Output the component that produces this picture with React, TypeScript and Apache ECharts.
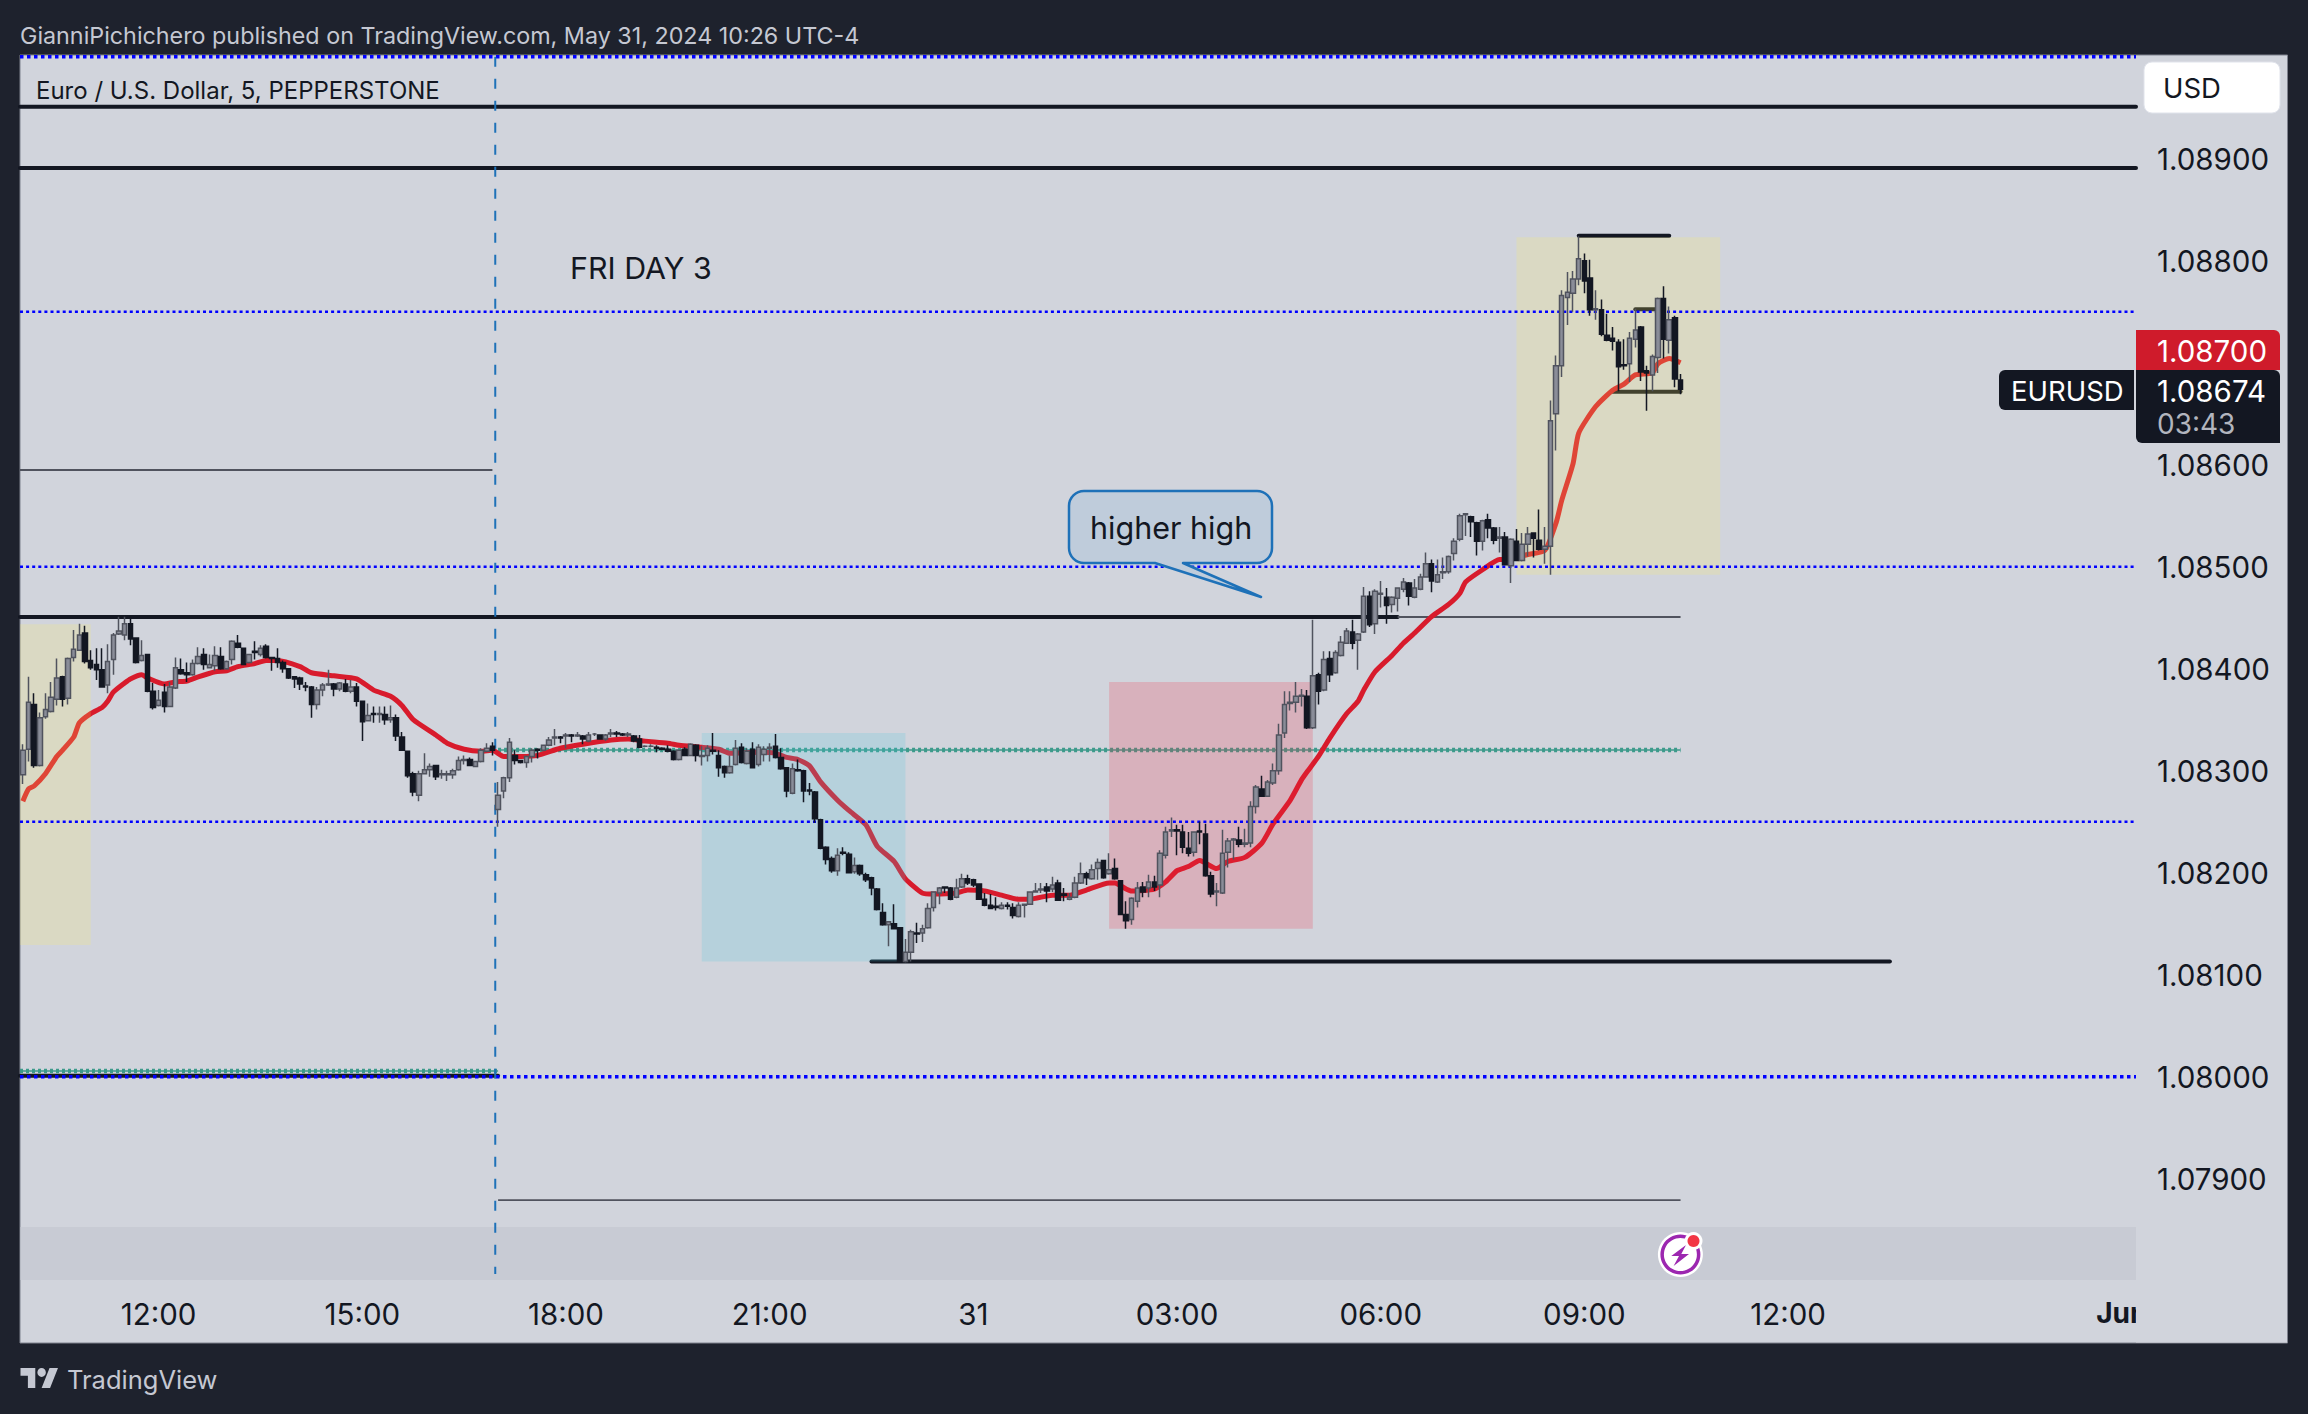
import React, { useEffect, useRef } from "react";
import * as echarts from "echarts";

// Prices are in points (0.00001) above this base.
const priceBase = 1.08;
const opens = [
  296,321,365,305,353,358,370,392,371,411, 418,435,408,404,399,384,409,434,433,444,
  430,408,414,378,364,377,363,381,399,396, 394,405,414,401,403,412,400,409,425,420,
  406,417,414,422,411,410,406,400,392,391, 383,382,365,379,384,385,380,385,378,382,
  368,349,356,355,355,350,352,333,319,297, 276,297,301,305,296,296,296,301,310,311,
  304,309,319,324,262,280,293,315,310,308, 314,321,320,325,332,333,334,335,334,334,
  329,336,335,331,336,337,336,335,334,331, 324,324,323,322,321,319,311,321,315,325,
  314,315,320,315,304,298,306,323,307,321, 306,316,322,324,313,303,278,301,300,281,
  279,252,225,214,202,220,218,201,207,198, 195,184,161,149,150,146,113,122,141,141,
  146,166,180,186,185,176,186,194,193,189, 174,168,167,165,168,166,157,168,169,181,
  183,186,184,190,179,174,176,190,199,194, 204,212,199,204,192,159,154,172,186,185,
  191,188,217,241,242,240,224,220,241,238, 197,181,180,220,232,232,228,229,265,282,
  275,288,300,337,366,367,373,373,342,394, 379,410,396,413,425,436,428,436,471,444,
  473,470,463,469,478,484,470,478,490,503, 485,494,495,513,527,551,549,543,525,546,
  538,528,529,501,525,506,522,533,526,517, 520,650,697,764,768,782,800,783,752,752,
  727,724,720,698,699,723,735,692,688,705, 763,722,744,683,
];
const highs = [
  326,392,376,357,376,387,410,393,411,438, 444,442,418,420,420,424,435,451,451,451,
  430,428,414,386,379,385,387,411,410,406, 409,421,420,414,422,421,408,428,433,420,
  414,427,423,424,411,420,408,400,392,392, 387,383,382,386,399,386,387,390,389,386,
  368,366,363,363,363,364,355,338,319,299, 300,317,307,305,301,300,302,314,315,313,
  309,322,327,328,289,294,332,320,310,315, 322,322,325,333,341,334,337,336,338,335,
  338,337,335,336,341,339,337,338,335,335, 325,326,325,323,325,320,320,323,327,326,
  324,325,337,320,305,315,330,327,322,328, 326,324,327,336,322,303,307,311,301,288,
  280,253,226,216,224,225,220,215,208,200, 196,185,170,152,169,146,135,144,151,149,
  170,181,186,186,186,194,199,198,194,189, 180,179,176,171,171,170,171,169,181,190,
  190,190,196,193,185,180,196,210,201,208, 214,212,219,214,192,172,176,191,191,198,
  197,222,245,254,247,247,240,240,250,248, 201,190,242,234,234,245,243,270,286,295,
  291,307,346,378,378,387,380,379,448,396, 417,417,418,432,440,448,435,480,476,478,
  486,479,471,479,489,485,488,493,514,507, 507,509,511,528,552,552,550,544,546,552,
  539,539,534,528,537,533,539,533,556,539, 663,707,771,789,790,824,807,801,771,762,
  748,735,723,723,730,753,736,697,708,764, 775,755,746,689,
];
const lows = [
  287,309,303,304,351,357,364,363,365,407, 418,405,399,389,382,376,394,433,428,423,
  405,407,377,360,363,357,363,380,394,387, 393,404,399,401,398,399,399,404,420,404,
  405,409,412,410,398,401,396,390,381,379, 378,352,360,373,383,373,378,377,376,363,
  329,349,347,347,345,347,329,320,293,275, 270,297,294,291,292,290,292,300,306,305,
  304,308,318,315,245,273,289,306,307,303, 308,312,319,324,325,327,322,328,333,326,
  328,334,331,329,333,333,334,333,328,322, 323,323,318,320,318,310,310,315,315,309,
  305,309,316,294,293,297,305,307,306,303, 304,309,309,312,301,274,277,299,269,276,
  249,223,208,200,197,217,200,199,197,191, 178,163,148,128,145,113,112,113,131,132,
  145,162,169,180,173,175,185,188,186,174, 167,165,163,164,164,155,156,156,169,181,
  180,171,181,173,172,173,175,189,188,193, 193,194,198,193,159,145,149,166,176,176,
  182,176,214,235,217,219,216,216,228,196, 176,167,179,205,213,225,225,225,258,275,
  275,286,296,332,359,357,363,341,341,365, 378,387,395,412,425,419,399,435,441,434,
  460,444,455,456,475,462,469,477,490,475, 484,488,493,506,525,530,529,511,516,528,
  522,514,502,484,506,505,510,509,516,503, 492,614,686,737,750,776,768,746,742,726,
  721,712,672,693,681,715,682,653,672,690, 704,709,676,669,
];
const closes = [
  320,367,305,352,360,372,391,370,410,419, 433,407,401,399,382,407,433,437,444,429,
  406,413,378,362,369,363,382,401,395,394, 405,412,404,404,413,400,407,427,421,404,
  414,416,420,411,410,406,400,391,390,385, 382,365,379,384,385,380,386,378,382,368,
  348,354,355,356,350,352,334,320,295,279, 297,301,304,294,297,297,300,310,311,305,
  309,320,322,320,276,293,328,310,308,314, 320,320,325,330,333,332,335,334,335,331,
  335,336,331,335,337,336,335,336,329,323, 324,324,322,321,319,311,320,315,326,315,
  315,322,319,303,298,304,322,308,319,303, 323,321,323,313,302,280,302,300,280,280,
  253,224,213,202,217,219,200,207,199,193, 185,164,149,152,145,113,122,142,140,145,
  165,181,185,185,174,185,194,190,188,174, 168,165,166,168,167,158,168,169,181,182,
  184,182,188,173,178,176,190,199,195,203, 210,195,203,194,159,153,175,185,181,191,
  186,219,240,242,241,225,219,240,240,197, 179,182,219,231,233,228,229,265,284,275,
  289,300,335,365,367,373,374,342,393,378, 409,394,416,426,437,425,434,471,443,476,
  474,462,470,479,485,471,479,490,503,486, 492,495,510,525,550,552,544,525,545,538,
  526,529,502,527,506,522,532,528,517,520, 643,697,766,769,782,802,780,752,753,728,
  722,721,696,697,724,732,691,690,706,763, 723,742,684,674,
];

// Moving average, read at the bars listed in emaBars.
const emaBars = [
  0,1,2,4,6,7,9,10,12,14,15,16,18,19,21,22,25,27,29,31,34,36,38,41,43,45,49,51,55,59,62,65,67,69,73,75,78,81,83,85,
  88,91,95,99,104,107,110,114,116,120,123,125,130,133,135,137,139,141,144,146,149,151,154,156,159,161,165,167,170,173,176,
  178,182,185,188,192,193,195,196,200,202,204,206,208,211,213,216,219,221,224,226,227,229,231,234,236,237,239,242,244,246,249,252,254,255,
  258,261,262,266,269,271,272,274,275,278,281,283,285,288,289,291,293,
];
const emaValues = [
  270,282,285,297,314,320,333,347,356,362,368,377,386,390,394,391,385,387,388,392,397,398,402,405,408,408,402,396,393,390,379,373,364,350,335,327,321,319,320,314,
  314,315,322,326,330,331,329,327,325,323,321,317,318,317,313,311,305,289,271,261,247,226,211,194,180,179,180,183,182,178,174,
  174,178,178,183,190,190,184,182,184,191,202,206,212,204,211,215,229,248,271,291,299,314,332,356,368,379,397,413,425,435,451,463,474,485,
  497,507,507,512,516,543,565,601,631,657,673,679,688,690,699,704,700,
];

const barCount = 374;
const lastBar = barCount - 1;
const firstBar = 0;
const tickBars = [24, 60, 96, 132, 168, 204, 240, 276, 312, 371];
const tickLabels = ["12:00", "15:00", "18:00", "21:00", "31", "03:00", "06:00", "09:00", "12:00", "Jun"];
const hiddenPriceTicks = [1.078, 1.087, 1.09];

// [first bar, last bar, low price, high price, tint]
const zones = [
  [0, 12, 1.08129, 1.084435, 0],
  [120, 156, 1.08113, 1.08337, 1],
  [192, 228, 1.08145, 1.08387, 2],
  [264, 300, 1.08492, 1.08823, 0],
];
const zoneTints = ["rgba(254,242,95,0.2)", "rgba(74,202,220,0.2)", "rgba(244,42,60,0.2)"];

// [first bar, last bar, price]
const blueThin = [[0, lastBar, 1.0875], [0, lastBar, 1.085], [0, lastBar, 1.0825]];
const blueThick = [[0, lastBar, 1.09], [0, lastBar, 1.08]];
const blackThick = [
  [0, lastBar, 1.08951], [0, lastBar, 1.08891], [0, 243, 1.084507], [150, 330, 1.08113],
  [275, 291, 1.088245], [281, 293, 1.086716], [285, 289, 1.087524], [0, 84, 1.08001],
];
const greyThin = [[243, 293, 1.084507], [0, 83, 1.085948], [84, 293, 1.07879]];
const greenLines = [[84, 293, 1.083203], [0, 84, 1.080056]];
const sessionLine = [[84, 1.09, 1.078066]];

const BG = "#1e222d";
const PANEL = "#d1d4dc";
const INK = "#131722";
const FONT = "Inter, 'Noto Sans', sans-serif";

echarts.graphic.registerShape(
  "tvLogo",
  echarts.graphic.extendPath(
    "M14 22H7V11H0V4h14v18zM28 22h-8l7.5-18h8L28 22zM16 8a4 4 0 1 0 8 0a4 4 0 1 0-8 0z",
    {}
  )
);
echarts.graphic.registerShape(
  "calloutBubble",
  echarts.graphic.extendPath(
    "M1084 491H1257A15 15 0 0 1 1272 506V548A15 15 0 0 1 1257 563H1183L1261 597L1155 563H1084A15 15 0 0 1 1069 548V506A15 15 0 0 1 1084 491z",
    {}
  )
);

function hlineSeries(rows: number[][], style: any, z: number) {
  return {
    type: "custom",
    silent: true,
    z,
    encode: { x: [0, 1], y: 2 },
    data: rows,
    renderItem: (params: any, api: any) => {
      const cs = params.coordSys;
      const s = api.value(0);
      const e = api.value(1);
      const a = api.coord([s, api.value(2)]);
      const b = api.coord([e, api.value(2)]);
      return {
        type: "line",
        shape: {
          x1: s === firstBar ? cs.x : a[0],
          y1: a[1],
          x2: e === lastBar ? cs.x + cs.width : b[0],
          y2: a[1],
        },
        style,
      };
    },
  };
}

export default function App() {
  const ref = useRef<HTMLDivElement>(null);
  useEffect(() => {
    document.body.style.margin = "0";
    document.body.style.background = BG;
    const chart = echarts.init(ref.current!, undefined, { renderer: "svg" });
    const categories = Array.from({ length: barCount }, (_, i) =>
      new Date(Date.UTC(2024, 4, 30, 10, 5 * i)).toISOString()
    );
    const toPrice = (p: number) => +(priceBase + p * 1e-5).toFixed(5);
    const candles = opens.map((o, i) => [toPrice(o), toPrice(closes[i]), toPrice(lows[i]), toPrice(highs[i])]);
    const ema = emaBars.map((b, i) => [b, toPrice(emaValues[i])]);

    const t = (text: string, x: number, y: number, fontSize: number, fill: string, extra: any = {}) => ({
      type: "text",
      z: 30,
      x,
      y,
      style: { text, fontSize, fill, fontFamily: FONT, textVerticalAlign: "middle", verticalAlign: "middle", ...extra },
    });
    const r = (x: number, y: number, width: number, height: number, fill: string, z = 20, extra: any = {}, radius: any = 0) => ({
      type: "rect",
      z,
      shape: { x, y, width, height, r: radius },
      style: { fill, ...extra },
    });

    chart.setOption({
      animation: false,
      backgroundColor: BG,
      grid: { left: 20, width: 2116, top: 56.7, height: 1224, containLabel: false },
      xAxis: {
        type: "category",
        data: categories,
        boundaryGap: true,
        axisLine: { show: false },
        axisTick: { show: false },
        splitLine: { show: false },
        axisLabel: {
          interval: (i: number) => tickBars.includes(i),
          formatter: (_: string, i: number) => {
            const k = tickBars.indexOf(i);
            if (k < 0) return "";
            return tickLabels[k] === "Jun" ? "{b|Jun}" : tickLabels[k];
          },
          margin: 18.5,
          fontSize: 29.5,
          color: INK,
          fontFamily: FONT,
          rich: { b: { fontSize: 28, fontWeight: "bold", color: INK, fontFamily: FONT } },
        },
      },
      yAxis: {
        type: "value",
        position: "right",
        min: 1.078,
        max: 1.09,
        interval: 0.001,
        axisLine: { show: false },
        axisTick: { show: false },
        splitLine: { show: false },
        axisLabel: {
          margin: 21,
          fontSize: 29.5,
          color: INK,
          fontFamily: FONT,
          padding: [5, 0, 0, 0],
          formatter: (v: number) =>
            hiddenPriceTicks.some((h) => Math.abs(h - v) < 1e-6) ? "" : v.toFixed(5),
        },
      },
      series: [
        {
          type: "line",
          data: ema,
          z: 1,
          silent: true,
          showSymbol: false,
          symbol: "none",
          smooth: 0.2,
          lineStyle: { color: "#d81b2c", width: 5 },
        },
        hlineSeries(blackThick, { stroke: INK, lineWidth: 4, lineCap: "round" }, 1),
        hlineSeries(greyThin, { stroke: "#50535e", lineWidth: 1.8 }, 1),
        hlineSeries(greenLines, { stroke: "#3d9a8b", lineWidth: 1.5 }, 1),
        hlineSeries(greenLines, { stroke: "#3d9a8b", lineWidth: 4.5, lineDash: [3, 3] }, 1),
        {
          type: "custom",
          silent: true,
          z: 2,
          encode: { x: [0, 1], y: [2, 3] },
          data: zones,
          renderItem: (params: any, api: any) => {
            const cs = params.coordSys;
            const a = api.coord([api.value(0), api.value(3)]);
            const b = api.coord([api.value(1), api.value(2)]);
            const x = api.value(0) === firstBar ? cs.x : a[0];
            return {
              type: "rect",
              shape: { x, y: a[1], width: b[0] - x, height: b[1] - a[1] },
              style: { fill: zoneTints[api.value(4)] },
            };
          },
        },
        hlineSeries(blueThin, { stroke: "#0000ff", lineWidth: 2.5, lineDash: [3, 3.1] }, 3),
        hlineSeries(blueThick, { stroke: "#0000ff", lineWidth: 3.5, lineDash: [3.5, 3.5] }, 3),
        {
          type: "custom",
          silent: true,
          z: 3,
          encode: { x: 0, y: [1, 2] },
          data: sessionLine,
          renderItem: (_: any, api: any) => {
            const a = api.coord([api.value(0), api.value(1)]);
            const b = api.coord([api.value(0), api.value(2)]);
            const half = api.size([1, 0])[0] / 2;
            return {
              type: "line",
              shape: { x1: a[0] - half, y1: a[1], x2: a[0] - half, y2: b[1] },
              style: { stroke: "#1e71b8", lineWidth: 2, lineDash: [10, 12] },
            };
          },
        },
        {
          type: "candlestick",
          data: candles,
          z: 4,
          silent: true,
          barWidth: 5,
          itemStyle: {
            color: "#8a8d99",
            color0: INK,
            borderColor: "#50535e",
            borderColor0: INK,
            borderColorDoji: "#50535e",
            borderWidth: 1.5,
          },
        },
      ],
      graphic: [
        r(20, 55, 2267.5, 1288, PANEL, -5, { stroke: "#7f828e", lineWidth: 1 }),
        r(20.5, 1227, 2115.5, 53, "#c8cbd4", -4),
        r(2136, 1282, 151, 60.5, PANEL, 25),
        t("GianniPichichero published on TradingView.com, May 31, 2024 10:26 UTC-4", 20, 35.5, 23.3, "#c5c8d2"),
        t("Euro / U.S. Dollar, 5, PEPPERSTONE", 36, 90, 24, INK),
        t("FRI DAY 3", 570, 268, 30.4, INK),
        {
          type: "calloutBubble",
          z: 12,
          style: { fill: "#bfccdb", stroke: "#1e71b8", lineWidth: 2.5, lineJoin: "round" },
        },
        t("higher high", 1090, 527, 30.5, INK),
        r(2144, 62, 136, 51, "#ffffff", 20, { stroke: "#e0e3eb", lineWidth: 1 }, 8),
        t("USD", 2163, 88, 27.5, INK),
        r(2136, 330, 144, 40, "#cf1b2b", 20, {}, [0, 6, 0, 0]),
        t("1.08700", 2157, 351, 29.5, "#ffffff"),
        r(2136, 370, 144, 73, INK, 20, {}, [0, 6, 0, 6]),
        t("1.08674", 2157, 391, 29.5, "#ffffff"),
        t("03:43", 2157, 424, 28, "#b2b5be"),
        r(1999, 370, 135, 40, INK, 20, {}, [6, 0, 0, 6]),
        t("EURUSD", 2011, 391, 27.5, "#ffffff"),
        {
          type: "tvLogo",
          z: 30,
          x: 20.5,
          y: 1363.6,
          scaleX: 1.056,
          scaleY: 1.11,
          style: { fill: "#c5c8d2" },
        },
        t("TradingView", 67, 1379, 25.5, "#c5c8d2"),
        { type: "circle", z: 30, shape: { cx: 1680.4, cy: 1254.5, r: 22.5 }, style: { fill: "#ffffff" } },
        { type: "ring", z: 31, shape: { cx: 1680.4, cy: 1254.5, r: 20, r0: 16.5 }, style: { fill: "#9c27b0" } },
        {
          type: "polygon",
          z: 31,
          shape: {
            points: [
              [1686, 1245], [1671.3, 1256], [1679, 1256], [1673.6, 1266], [1689, 1254], [1681.3, 1254],
            ],
          },
          style: { fill: "#9c27b0" },
        },
        { type: "circle", z: 32, shape: { cx: 1693.5, cy: 1241, r: 9 }, style: { fill: "#ffffff" } },
        { type: "circle", z: 33, shape: { cx: 1693.5, cy: 1241, r: 6 }, style: { fill: "#f23645" } },
      ],
    });
    return () => chart.dispose();
  }, []);
  return <div ref={ref} style={{ position: "absolute", left: 0, top: 0, width: 2308, height: 1414 }} />;
}
